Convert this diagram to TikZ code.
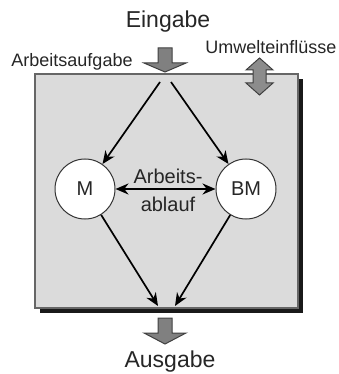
\documentclass[tikz,border=0pt]{standalone}
\usepackage{fontspec}
\setmainfont{Liberation Sans}
\usetikzlibrary{arrows.meta}
\tikzset{>={Stealth[length=13pt,width=11pt]},
  flow/.style={line width=1.7pt,->},
  txtbig/.style={font=\fontsize{23}{26}\selectfont,text=black!85,inner sep=0pt},
  txtsmall/.style={font=\fontsize{18}{20}\selectfont,text=black!85,inner sep=0pt},
  txtmid/.style={font=\fontsize{20}{22}\selectfont,text=black!85,inner sep=0pt},
  unit/.style={circle,draw=black!80,line width=1pt,fill=white,minimum size=60pt,inner sep=0pt,font=\fontsize{20}{22}\selectfont,text=black!85},
  fat/.style={fill=black!50,draw=black!75,line width=1pt,line join=miter}}

\begin{document}
\begin{tikzpicture}[x=1pt,y=-1pt]
\useasboundingbox (0,0) rectangle (339,374);
% Rahmen mit Schatten
\fill[black!90] (40,79) rectangle (303,313);
\draw[fill=black!14,draw=black!60,line width=1.2pt] (35,74) rectangle (298,308);
% Texte aussen
\node[txtbig] (ein) at (168,22) {Eingabe};
\node[txtsmall] (arb) at (72,62) {Arbeitsaufgabe};
\node[txtsmall] (umw) at (271,47) {Umwelteinflüsse};
\node[txtbig] (aus) at (170,362) {Ausgabe};
% Blockpfeile
\draw[fat] (158,48)--(172,48)--(172,63)--(186,63)--(165,72)--(144,63)--(158,63)--cycle;
\draw[fat] (158,318)--(172,318)--(172,333)--(186,333)--(165,344)--(144,333)--(158,333)--cycle;
\draw[fat,fill=black!45] (259.5,58)--(273,70)--(266,70)--(266,83)--(273,83)--(259.5,95)--(246,83)--(253,83)--(253,70)--(246,70)--cycle;
% Mensch und Betriebsmittel
\node[unit] (m) at (85,189) {M};
\node[unit] (bm) at (246,189) {BM};
\coordinate (in1) at (160,82);\coordinate (in2) at (171,82);
\coordinate (out1) at (158,306);\coordinate (out2) at (175,306);
\draw[flow] (in1)--(m);\draw[flow] (in2)--(bm);
\draw[flow] (m)--(out1);\draw[flow] (bm)--(out2);
\draw[flow,<->] (m)--(bm);
\node[txtmid] (ab1) at (168,176) {Arbeits-};
\node[txtmid] (ab2) at (168,204) {ablauf};
\end{tikzpicture}
\end{document}
